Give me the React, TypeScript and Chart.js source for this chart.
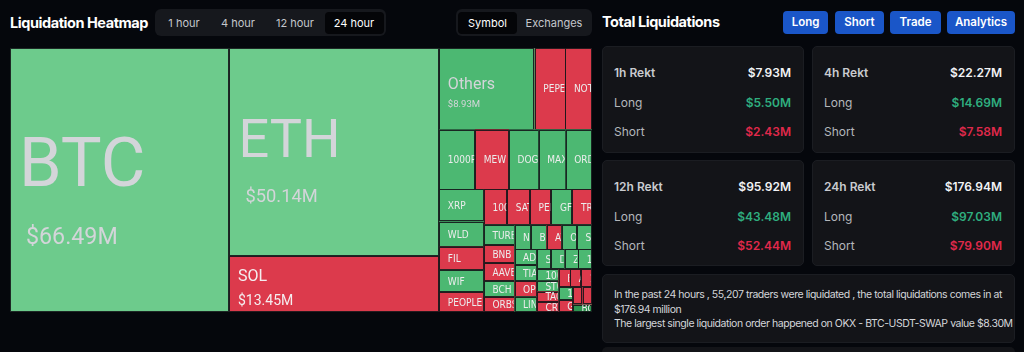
import React, { useEffect, useRef } from "react";
import { Chart, registerables } from "chart.js";

Chart.register(...registerables);

// ---------- data ----------
const timeTabs = ["1 hour", "4 hour", "12 hour", "24 hour"];
const modeTabs = ["Symbol", "Exchanges"];
const actionButtons = ["Long", "Short", "Trade", "Analytics"];
const rektPeriods = ["1h Rekt", "4h Rekt", "12h Rekt", "24h Rekt"];
const rektTotal = ["$7.93M", "$22.27M", "$95.92M", "$176.94M"];
const rektLong = ["$5.50M", "$14.69M", "$43.48M", "$97.03M"];
const rektShort = ["$2.43M", "$7.58M", "$52.44M", "$79.90M"];
const summaryLines = [
  "In the past 24 hours , 55,207 traders were liquidated , the total liquidations comes in at",
  "$176.94 million",
  "The largest single liquidation order happened on OKX - BTC-USDT-SWAP value $8.30M",
];

const symbols = [
  "BTC", "ETH", "SOL", "Others", "PEPE", "NOT",
  "1000PEPE", "MEW", "DOGE", "MAX", "ORDI",
  "XRP", "WLD", "FIL", "WIF", "PEOPLE",
  "1000BONK", "SATS", "PENDLE", "GFT", "TRB",
  "TURBO", "BNB", "AAVE", "BCH", "ORBS",
  "NEAR", "BIGTIME", "AVAX", "ONDO", "SUI",
  "ADA", "TIA", "OP", "LINK",
  "STX", "DOT", "ZRO", "1INCH",
  "1000RATS", "STG", "TAO", "CRV",
  "ENA", "ARB", "1000FLOKI",
  "1000LUNC", "GALA",
  "FTM", "IO", "BOME",
];
const liqValues = [
  66.49, 50.14, 13.45, 8.93, 2.86, 2.49,
  2.45, 2.31, 2.04, 1.84, 1.8,
  1.66, 1.29, 1.18, 1.13, 1.02,
  0.96, 0.93, 0.88, 0.86, 0.8,
  0.72, 0.64, 0.62, 0.56, 0.53,
  0.46, 0.44, 0.43, 0.43, 0.42,
  0.41, 0.4, 0.4, 0.39,
  0.32, 0.31, 0.31, 0.31,
  0.29, 0.27, 0.26, 0.25,
  0.24, 0.23, 0.22,
  0.22, 0.19,
  0.19, 0.19, 0.16,
];
// dominant liquidation side / shade
const sides = [
  "G1", "G1", "R", "G2", "R", "R",
  "G2", "R", "G2", "G2", "G2",
  "G2", "G2", "R", "G2", "R",
  "R", "R", "R", "G2", "R",
  "G2", "R", "R", "G2", "R",
  "G2", "G2", "R", "G2", "G2",
  "G2", "G2", "R", "G2",
  "G2", "G2", "G2", "G2",
  "G2", "G2", "R", "R",
  "R", "R", "R",
  "G2", "R",
  "R", "R", "G3",
];

const palette: Record<string, string> = {
  G1: "#6dcb8c",
  G2: "#4cb872",
  G3: "#2f9552",
  R: "#dc3a4c",
};

// ---------- squarified layout (golden ratio) ----------
type Cell = { x: number; y: number; w: number; h: number };
function squarify(values: number[], W: number, H: number): Cell[] {
  const total = values.reduce((a, b) => a + b, 0);
  const k = (W * H) / total;
  const items = values
    .map((v, i) => ({ i, area: v * k }))
    .sort((a, b) => b.area - a.area);
  const rect = { x: 0, y: 0, width: W, height: H };
  const out: Cell[] = new Array(values.length);
  const ratio = 0.5 * (1 + Math.sqrt(5));
  const worst = (row: { area: number }[], rowArea: number, fixed: number) => {
    let mx = 0, mn = Infinity;
    for (const r of row) {
      if (r.area < mn) mn = r.area;
      if (r.area > mx) mx = r.area;
    }
    const sq = rowArea * rowArea;
    const f = fixed * fixed * ratio;
    return sq ? Math.max((f * mx) / sq, sq / (f * mn)) : Infinity;
  };
  const position = (row: { i: number; area: number }[], rowArea: number, fixed: number, flush: boolean) => {
    const horiz = fixed === rect.width;
    if (horiz) {
      let last = rect.x;
      let other = fixed ? rowArea / fixed : 0;
      if (flush || other > rect.height) other = rect.height;
      row.forEach((n, j) => {
        const step = other ? n.area / other : 0;
        const remain = rect.x + rect.width - last;
        const m = j === row.length - 1 || remain < step ? remain : step;
        out[n.i] = { x: last, y: rect.y, w: m, h: other };
        last += m;
      });
      rect.y += other;
      rect.height -= other;
    } else {
      let last = rect.y;
      let other = fixed ? rowArea / fixed : 0;
      if (flush || other > rect.width) other = rect.width;
      row.forEach((n, j) => {
        const step = other ? n.area / other : 0;
        const remain = rect.y + rect.height - last;
        const m = j === row.length - 1 || remain < step ? remain : step;
        out[n.i] = { x: rect.x, y: last, w: other, h: m };
        last += m;
      });
      rect.x += other;
      rect.width -= other;
    }
  };
  let fixed = Math.min(rect.width, rect.height);
  let row: { i: number; area: number }[] = [];
  let rowArea = 0;
  let best = Infinity;
  for (let j = 0; j < items.length; ) {
    row.push(items[j]);
    rowArea += items[j].area;
    const s = worst(row, rowArea, fixed);
    if (s <= best) {
      j++;
      best = s;
    } else {
      rowArea -= row.pop()!.area;
      position(row, rowArea, fixed, false);
      fixed = Math.min(rect.width, rect.height);
      row = [];
      rowArea = 0;
      best = Infinity;
    }
  }
  if (row.length) position(row, rowArea, fixed, true);
  return out;
}

const FONT = "Roboto, 'DejaVu Sans', sans-serif";
const NARROW = "'Liberation Sans Narrow', 'DejaVu Sans Condensed', Roboto, sans-serif";

const treemapPlugin = {
  id: "treemapLite",
  afterDatasetsDraw(chart: any) {
    const ds = chart.data.datasets[0];
    const values = ds.data as number[];
    const labels = chart.data.labels as string[];
    const colors = ds.backgroundColor as string[];
    const xs = chart.scales.x;
    const ys = chart.scales.y;
    const cells = squarify(values, xs.max - xs.min, ys.max - ys.min);
    const ctx: CanvasRenderingContext2D = chart.ctx;
    cells.forEach((c, i) => {
      const x0 = xs.getPixelForValue(xs.min + c.x);
      const x1 = xs.getPixelForValue(xs.min + c.x + c.w);
      const y0 = ys.getPixelForValue(ys.min + c.y);
      const y1 = ys.getPixelForValue(ys.min + c.y + c.h);
      const w = x1 - x0;
      const h = y1 - y0;
      ctx.save();
      ctx.fillStyle = colors[i];
      ctx.fillRect(x0, y0, w, h);
      ctx.strokeStyle = "rgba(20,22,26,0.9)";
      ctx.lineWidth = 1;
      ctx.strokeRect(Math.round(x0) + 0.5, Math.round(y0) + 0.5, Math.round(w) - 1, Math.round(h) - 1);
      ctx.beginPath();
      ctx.rect(x0, y0, w - 1, h - 1);
      ctx.clip();
      ctx.textAlign = "left";
      if (w > 80 && h > 45) {
        let ns = Math.min(w / 3.2, h / 3.85);
        const big = ns >= 30;
        if (!big) ns = Math.min(16, h * 0.29);
        const vs = big ? ns / 2.95 : Math.min(14, w / 10);
        const nyFrac = h >= 70 ? 0.432 : 0.336;
        const vyFrac = big ? 0.71 : h >= 70 ? 0.681 : 0.782;
        ctx.textBaseline = "alphabetic";
        ctx.fillStyle = colors[i] === palette.R ? "#f4eef0" : "#d3d5d9";
        ctx.font = `400 ${ns}px ${FONT}`;
        ctx.fillText(labels[i], x0 + (big ? 9 : 8.5), y0 + h * nyFrac + ns * 0.355);
        ctx.font = `400 ${vs}px ${FONT}`;
        ctx.fillText(`$${values[i].toFixed(2)}M`, x0 + (big ? 16 : 8.5), y0 + h * vyFrac + vs * 0.355);
      } else {
        ctx.textBaseline = "alphabetic";
        ctx.fillStyle = "#eceded";
        ctx.font = `400 10px ${NARROW}`;
        ctx.fillText(labels[i], x0 + 8.5, y0 + h / 2 + 3.6);
      }
      ctx.restore();
    });
  },
};

function Treemap() {
  const ref = useRef<HTMLCanvasElement>(null);
  useEffect(() => {
    const chart = new Chart(ref.current!, {
      type: "bar",
      data: {
        labels: symbols,
        datasets: [
          {
            label: "Liquidations (M USD)",
            data: liqValues,
            backgroundColor: sides.map((s) => palette[s]),
            hidden: true,
          },
        ],
      },
      options: {
        animation: false,
        responsive: false,
        maintainAspectRatio: false,
        layout: { padding: 0 },
        plugins: { legend: { display: false }, tooltip: { enabled: false } },
        scales: {
          x: { type: "linear", min: 0, max: 582, offset: false, display: false },
          y: { type: "linear", min: 0, max: 264, reverse: true, offset: false, display: false },
        },
      },
      plugins: [treemapPlugin],
    } as any);
    return () => chart.destroy();
  }, []);
  return (
    <canvas
      ref={ref}
      width={582}
      height={264}
      style={{ position: "absolute", left: 10, top: 48, width: 582, height: 264 }}
    />
  );
}

const UI = "Inter, 'Noto Sans', sans-serif";

export default function App() {
  const tabCenters = [184, 238, 295, 354];
  const btnBoxes = [
    [783, 45],
    [835, 49],
    [890, 51],
    [947, 68],
  ];
  const cardBoxes = [
    [602, 46, 202, 107],
    [812, 46, 203, 107],
    [602, 160, 202, 106],
    [812, 160, 203, 106],
  ];
  return (
    <div
      style={{
        position: "fixed",
        left: 0,
        top: 0,
        width: 1024,
        height: 352,
        background: "#05070c",
        fontFamily: UI,
        overflow: "hidden",
      }}
    >
      <div style={{ position: "absolute", left: 10, top: 13, color: "#fff", fontWeight: 700, fontSize: 14.5, letterSpacing: -0.45, lineHeight: "20px" }}>
        Liquidation Heatmap
      </div>
      <div style={{ position: "absolute", left: 155, top: 9, width: 231, height: 27, background: "#16181d", borderRadius: 6 }} />
      <div style={{ position: "absolute", left: 325, top: 12, width: 59, height: 22, background: "#040508", borderRadius: 4 }} />
      {timeTabs.map((t, i) => (
        <div key={t} style={{ position: "absolute", left: tabCenters[i] - 30, top: 12, width: 60, height: 22, lineHeight: "22px", textAlign: "center", fontSize: 11, color: i === 3 ? "#ffffff" : "#c4c7cc" }}>
          {t}
        </div>
      ))}
      <div style={{ position: "absolute", left: 456, top: 9, width: 136, height: 27, background: "#16181d", borderRadius: 6 }} />
      <div style={{ position: "absolute", left: 458, top: 12, width: 59, height: 22, background: "#040508", borderRadius: 4 }} />
      {modeTabs.map((t, i) => (
        <div key={t} style={{ position: "absolute", left: (i === 0 ? 487.5 : 554) - 35, top: 12, width: 70, height: 22, lineHeight: "22px", textAlign: "center", fontSize: 11, color: i === 0 ? "#ffffff" : "#c4c7cc" }}>
          {t}
        </div>
      ))}

      <Treemap />

      <div style={{ position: "absolute", left: 602, top: 12, color: "#fff", fontWeight: 700, fontSize: 14.5, letterSpacing: -0.45, lineHeight: "20px" }}>
        Total Liquidations
      </div>
      {actionButtons.map((b, i) => (
        <div key={b} style={{ position: "absolute", left: btnBoxes[i][0], top: 11, width: btnBoxes[i][1], height: 23, lineHeight: "23px", background: "#1a56c8", borderRadius: 4, color: "#fff", fontSize: 11.5, fontWeight: 600, textAlign: "center" }}>
          {b}
        </div>
      ))}

      {rektPeriods.map((p, i) => {
        const [l, t, w, h] = cardBoxes[i];
        const row = (y: number, label: string, val: string, lc: string, vc: string, lw: number) => (
          <>
            <div style={{ position: "absolute", left: 11, top: y - 9, lineHeight: "18px", fontSize: 12, color: lc, fontWeight: lw }}>{label}</div>
            <div style={{ position: "absolute", right: 12, top: y - 9, lineHeight: "18px", fontSize: 12, color: vc, fontWeight: 600 }}>{val}</div>
          </>
        );
        return (
          <div key={p} style={{ position: "absolute", left: l, top: t, width: w, height: h, background: "#131418", border: "1px solid #1b1d22", boxSizing: "border-box", borderRadius: 5 }}>
            {row(26, p, rektTotal[i], "#c9cbcf", "#f2f3f5", 600)}
            {row(56, "Long", rektLong[i], "#b4b7bc", "#2fae7f", 400)}
            {row(85, "Short", rektShort[i], "#b4b7bc", "#e0294b", 400)}
          </div>
        );
      })}

      <div style={{ position: "absolute", left: 602, top: 274, width: 413, height: 69, background: "#131418", border: "1px solid #1b1d22", boxSizing: "border-box", borderRadius: 5 }}>
        {summaryLines.map((s, i) => (
          <div key={i} style={{ position: "absolute", left: 11, top: 12 + i * 14.5, whiteSpace: "nowrap", fontSize: 10.5, lineHeight: "15px", color: "#d4d6da", letterSpacing: -0.45 }}>
            {s}
          </div>
        ))}
      </div>
      <div style={{ position: "absolute", left: 602, top: 347, width: 413, height: 20, background: "#131418", borderRadius: 5 }} />
    </div>
  );
}
